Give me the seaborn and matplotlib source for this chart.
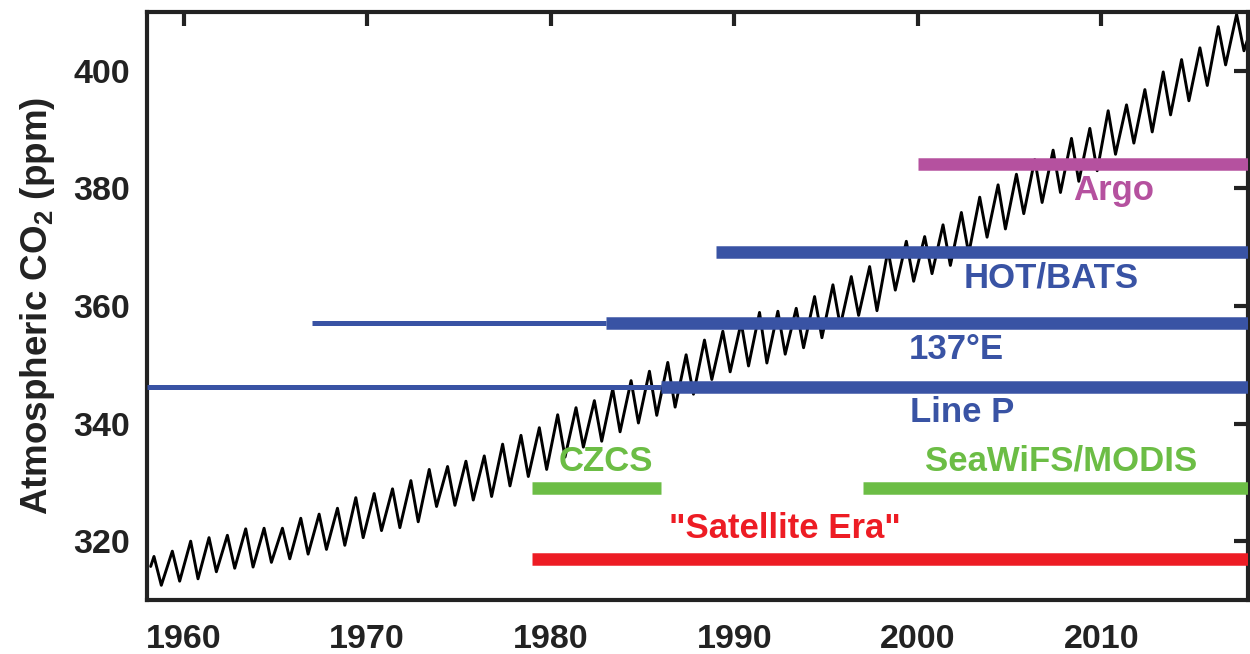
# Atmospheric CO2 (Mauna Loa) with ocean observing programmes

import matplotlib
matplotlib.use("Agg")
import matplotlib.pyplot as plt
import seaborn as sns
import pandas as pd

# yearly seasonal maxima (about May) and minima (about October), ppm
years = list(range(1958, 2018))
co2_peak = [317.4, 318.3, 320.0, 320.6, 321.0, 322.1, 322.2, 322.2, 323.9, 324.6,
            325.6, 327.4, 328.1, 328.9, 330.3, 332.2, 332.7, 333.6, 334.5, 336.5,
            338.0, 339.3, 341.5, 342.7, 343.9, 345.9, 347.3, 348.9, 350.4, 351.7,
            354.2, 355.7, 357.2, 358.9, 359.1, 359.6, 361.6, 363.6, 365.0, 366.7,
            369.5, 371.0, 371.8, 373.8, 375.9, 378.5, 380.6, 382.4, 384.9, 386.5,
            388.5, 390.2, 393.2, 394.2, 396.8, 399.8, 401.9, 403.9, 407.5, 409.6]
co2_trough = [312.5, 313.2, 313.6, 314.8, 315.4, 315.6, 316.4, 317.0, 317.8, 318.6,
              319.3, 320.6, 321.8, 322.3, 323.3, 325.9, 326.1, 327.0, 327.6, 329.4,
              331.0, 332.2, 334.3, 336.0, 337.0, 338.6, 340.1, 341.4, 342.8, 345.0,
              347.5, 348.8, 349.8, 350.3, 351.8, 352.9, 354.6, 356.6, 358.4, 359.2,
              362.7, 364.2, 365.5, 366.9, 368.9, 371.7, 373.1, 375.7, 377.6, 379.3,
              381.2, 383.0, 385.8, 387.7, 389.6, 392.5, 394.9, 397.5, 401.0, 403.4]
co2_start = (1958.2, 315.7)
co2_end = (2018.05, 406.0)

# observing programmes: start, end, level, colour, thick?
prog_names = ["Argo", "HOT/BATS", "137E thin", "137E", "Line P thin", "Line P",
              "CZCS", "SeaWiFS/MODIS", "Satellite Era"]
prog_start = [2000, 1989, 1967, 1983, 1958, 1986, 1979, 1997, 1979]
prog_end = [2018.5, 2018.5, 1983, 2018.5, 1986, 2018.5, 1986, 2018.5, 2018.5]
prog_level = [384.2, 369.1, 357.1, 357.1, 346.2, 346.2, 329.1, 329.1, 316.9]

blue = "#3953a4"
magenta = "#b5519f"
green = "#6cbd45"
red = "#ed1c24"
prog_color = [magenta, blue, blue, blue, blue, blue, green, green, red]
prog_thick = [True, True, False, True, False, True, True, True, True]

# build the zigzag record
t = [co2_start[0]]
v = [co2_start[1]]
for y, p, tr in zip(years, co2_peak, co2_trough):
    t += [y + 0.38, y + 0.78]
    v += [p, tr]
t.append(co2_end[0])
v.append(co2_end[1])
df = pd.DataFrame({"year": t, "co2": v})

sns.set_style("white")
plt.rcParams["font.family"] = ["Liberation Sans", "DejaVu Sans"]
plt.rcParams["font.weight"] = "bold"
plt.rcParams["mathtext.fontset"] = "custom"
plt.rcParams["mathtext.rm"] = "Liberation Sans:bold"
plt.rcParams["mathtext.bf"] = "Liberation Sans:bold"

fig = plt.figure(figsize=(12.5, 6.54), dpi=100)
ax = fig.add_axes([0.1176, 0.0826, 0.8808, 0.8991])

sns.lineplot(data=df, x="year", y="co2", color="black", lw=2.1, ax=ax, zorder=2)

for x0, x1, lev, col, thick in zip(prog_start, prog_end, prog_level,
                                   prog_color, prog_thick):
    ax.hlines(lev, x0, x1, colors=col, lw=9 if thick else 3.6,
              capstyle="butt", zorder=3)

fs = 25
ax.text(2010.7, 379.7, "Argo", color=magenta, fontsize=fs, fontweight="bold",
        ha="center", va="center")
ax.text(2007.3, 364.8, "HOT/BATS", color=blue, fontsize=fs, fontweight="bold",
        ha="center", va="center")
ax.text(2002.1, 352.6, "137\u00b0E", color=blue, fontsize=fs, fontweight="bold",
        ha="center", va="center")
ax.text(2002.4, 341.9, "Line P", color=blue, fontsize=fs, fontweight="bold",
        ha="center", va="center")
ax.text(1983.0, 333.6, "CZCS", color=green, fontsize=fs, fontweight="bold",
        ha="center", va="center")
ax.text(2007.8, 333.6, "SeaWiFS/MODIS", color=green, fontsize=fs,
        fontweight="bold", ha="center", va="center")
ax.text(1992.75, 322.2, "\"Satellite Era\"", color=red, fontsize=fs,
        fontweight="bold", ha="center", va="center")

ax.set_xlim(1958, 2018)
ax.set_ylim(310, 410)
ax.set_xticks([1960, 1970, 1980, 1990, 2000, 2010])
ax.set_yticks([320, 340, 360, 380, 400])
ax.set_xlabel("")
ax.set_ylabel(r"Atmospheric CO$_2$ (ppm)", fontsize=26.5, fontweight="bold",
              color="#222222", labelpad=12)

ax.tick_params(direction="in", length=10, width=3, top=True, right=True,
               labelsize=24.5, colors="#222222", pad=12)
ax.tick_params(axis="x", pad=17)
for lab in ax.get_xticklabels() + ax.get_yticklabels():
    lab.set_fontweight("bold")
for s in ax.spines.values():
    s.set_linewidth(3)
    s.set_color("#222222")
    s.set_visible(True)

fig.savefig("out.png", dpi=100)
